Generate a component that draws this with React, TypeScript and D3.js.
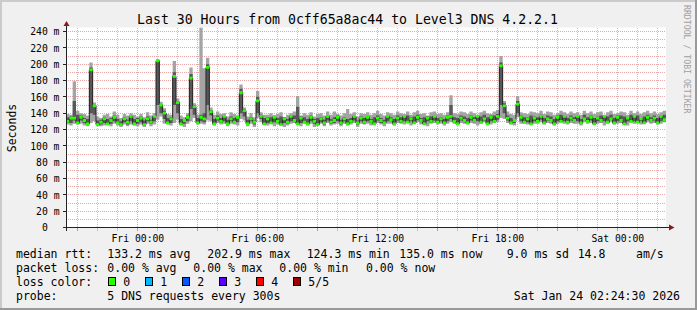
import React from 'react';
import * as d3 from 'd3';

// ---------- data ----------
const TITLE = 'Last 30 Hours from 0cff65a8ac44 to Level3 DNS 4.2.2.1';
const START_H = 20 + 24.5 / 60; // Thu 20:24:30 (hours since Thu 00:00)
const SPAN_H = 30;
const STEP_H = 10 / 60;
const Y_MAX = 244.9;

const median = [
  130, 134, 134, 128, 135, 131, 127, 193, 149, 126,
  129, 133, 127, 131, 135, 128, 126, 133, 129, 136,
  127, 131, 134, 126, 133, 129, 136, 204, 150, 140,
  128, 133, 185, 153, 127, 131, 135, 183, 148, 128,
  135, 133, 196, 142, 127, 134, 130, 136, 127, 133,
  129, 135, 165, 143, 127, 133, 129, 155, 136, 127,
  133, 128, 135, 130, 126, 133, 129, 136, 131, 127,
  134, 129, 127, 135, 130, 126, 133, 128, 136, 129,
  131, 135, 128, 133, 127, 130, 136, 128, 134, 129,
  135, 130, 127, 134, 131, 128, 136, 132, 127, 134,
  130, 136, 129, 133, 128, 135, 131, 127, 134, 130,
  136, 129, 133, 128, 135, 136, 130, 127, 134, 131,
  128, 135, 131, 136, 129, 133, 127, 135, 130, 136,
  198, 149, 134, 128, 131, 151, 135, 129, 133, 127,
  134, 130, 136, 128, 133, 131, 127, 135, 130, 136,
  129, 134, 131, 136, 128, 133, 130, 135, 127, 134,
  131, 136, 129, 133, 128, 135, 131, 127, 134, 130,
  136, 129, 133, 128, 135, 131, 134, 128, 136, 132,
];

const pingLo = [
  126, 125, 127, 126, 127, 125, 124, 128, 130, 124,
  124, 125, 126, 124, 127, 125, 123, 126, 124, 126,
  125, 124, 126, 123, 127, 124, 126, 132, 136, 127,
  126, 125, 128, 132, 125, 123, 127, 130, 134, 126,
  127, 126, 131, 130, 125, 128, 126, 127, 124, 127,
  126, 125, 133, 131, 124, 127, 123, 134, 129, 126,
  125, 127, 124, 126, 127, 123, 125, 127, 128, 126,
  124, 127, 125, 127, 123, 126, 127, 124, 128, 125,
  126, 127, 124, 127, 125, 126, 128, 123, 127, 126,
  127, 125, 127, 128, 126, 124, 127, 127, 125, 128,
  127, 126, 128, 125, 127, 129, 126, 127, 124, 127,
  128, 126, 127, 125, 127, 129, 127, 126, 128, 127,
  126, 128, 127, 125, 127, 129, 127, 126, 128, 129,
  134, 133, 128, 126, 125, 135, 127, 127, 126, 128,
  127, 127, 129, 126, 128, 127, 125, 127, 129, 127,
  126, 128, 127, 127, 125, 129, 127, 128, 126, 127,
  128, 125, 127, 129, 126, 127, 128, 127, 125, 129,
  127, 128, 126, 127, 129, 127, 128, 126, 127, 129,
];

const pingQ1 = [
  128, 128, 131, 127, 131, 128, 126, 140, 138, 125,
  126, 128, 126, 127, 130, 127, 125, 129, 126, 130,
  126, 127, 129, 125, 130, 127, 130, 150, 140, 133,
  127, 128, 150, 140, 126, 127, 130, 145, 138, 127,
  130, 129, 150, 137, 126, 131, 128, 130, 126, 130,
  128, 129, 140, 136, 126, 130, 126, 140, 133, 126,
  128, 127, 129, 128, 126, 128, 127, 130, 129, 126,
  128, 128, 126, 130, 127, 126, 129, 126, 131, 127,
  128, 130, 126, 130, 126, 128, 131, 126, 130, 127,
  130, 128, 126, 131, 128, 127, 130, 130, 126, 131,
  128, 130, 128, 130, 127, 132, 129, 127, 130, 128,
  131, 128, 130, 127, 130, 133, 129, 127, 131, 129,
  127, 131, 129, 130, 128, 131, 127, 130, 129, 132,
  150, 140, 131, 127, 128, 140, 130, 128, 129, 127,
  130, 129, 132, 127, 131, 129, 127, 130, 129, 130,
  128, 131, 129, 130, 127, 132, 129, 131, 127, 130,
  129, 130, 128, 132, 127, 130, 129, 127, 130, 129,
  130, 128, 130, 127, 132, 129, 131, 127, 130, 130,
];

const pingQ3 = [
  135, 136, 155, 138, 137, 134, 133, 196, 150, 131,
  132, 135, 133, 134, 137, 133, 130, 135, 132, 137,
  133, 134, 136, 131, 136, 132, 137, 205, 151, 143,
  134, 135, 190, 155, 133, 133, 137, 188, 150, 134,
  138, 140, 200, 144, 133, 137, 134, 137, 132, 136,
  134, 136, 170, 145, 132, 135, 131, 160, 138, 134,
  135, 135, 137, 134, 136, 135, 133, 137, 137, 148,
  136, 135, 133, 137, 133, 134, 135, 132, 137, 133,
  135, 137, 132, 135, 133, 134, 137, 131, 136, 134,
  136, 133, 135, 137, 134, 132, 137, 135, 133, 137,
  135, 137, 137, 135, 136, 138, 134, 135, 136, 136,
  137, 134, 135, 133, 137, 150, 135, 134, 137, 136,
  134, 137, 135, 137, 136, 138, 135, 137, 137, 139,
  202, 152, 137, 134, 133, 155, 137, 135, 135, 137,
  136, 135, 138, 134, 137, 136, 133, 137, 138, 137,
  134, 137, 135, 137, 133, 138, 135, 137, 134, 136,
  137, 137, 136, 138, 134, 137, 137, 136, 135, 138,
  137, 137, 134, 136, 138, 135, 137, 134, 137, 138,
];

const pingHi = [
  139, 138, 179, 143, 140, 139, 137, 202, 153, 136,
  134, 138, 139, 136, 142, 138, 134, 139, 137, 140,
  138, 136, 139, 135, 141, 137, 140, 206, 154, 146,
  139, 138, 204, 158, 137, 135, 140, 196, 152, 138,
  245, 195, 208, 147, 138, 142, 139, 140, 136, 141,
  139, 137, 175, 147, 136, 140, 135, 167, 141, 138,
  138, 140, 136, 139, 141, 135, 138, 140, 142, 161,
  137, 140, 138, 141, 136, 139, 140, 137, 142, 138,
  142, 139, 137, 140, 145, 139, 141, 136, 140, 139,
  141, 138, 140, 143, 139, 137, 141, 140, 138, 142,
  140, 139, 142, 138, 141, 143, 139, 140, 137, 141,
  142, 139, 140, 138, 141, 162, 140, 139, 142, 141,
  139, 142, 140, 138, 141, 143, 140, 139, 142, 144,
  210, 155, 142, 139, 138, 161, 141, 140, 139, 142,
  141, 140, 143, 139, 142, 141, 138, 140, 143, 141,
  139, 142, 140, 141, 138, 143, 140, 142, 139, 141,
  142, 138, 141, 143, 139, 140, 142, 141, 138, 143,
  140, 142, 139, 141, 143, 140, 142, 139, 141, 143,
];

const yTickValues = [0, 20, 40, 60, 80, 100, 120, 140, 160, 180, 200, 220, 240];
const yTickLabels = ['0  ', '20 m', '40 m', '60 m', '80 m', '100 m', '120 m', '140 m', '160 m', '180 m', '200 m', '220 m', '240 m'];
const yGridValues = d3.range(10, 241, 10);
const xLabelHours = [24, 30, 36, 42, 48];
const xLabels = ['Fri 00:00', 'Fri 06:00', 'Fri 12:00', 'Fri 18:00', 'Sat 00:00'];

const rttLabel = 'median rtt:';
const rttItems = ['133.2 ms avg', '202.9 ms max', '124.3 ms min', '135.0 ms now', '9.0 ms sd', '14.8', 'am/s'];
const lossLabel = 'packet loss:';
const lossItems = ['0.00 % avg', '0.00 % max', '0.00 % min', '0.00 % now'];
const colorLabel = 'loss color:';
const lossColorLabels = ['0', '1', '2', '3', '4', '5/5'];
const lossColors = ['#26ff00', '#00b8ff', '#0059ff', '#5e00ff', '#ff0000', '#a00000'];
const probeLabel = 'probe:';
const probeText = '5 DNS requests every 300s';
const dateText = 'Sat Jan 24 02:24:30 2026';
const sideText = 'RRDTOOL / TOBI OETIKER';

// ---------- layout ----------
const W = 697;
const H = 310;
const PL = 66;
const PR = 666;
const PT = 27.5;
const PB = 227.5;
const MONO = "'DejaVu Sans Mono', 'Liberation Mono', monospace";
const rttX = [107.3, 207.3, 306.7, 399.3, 506.7, 577.7, 636];
const lossX = [107.3, 193.3, 279.3, 366];
const LEG_Y = [258, 272, 286, 300];

export default function App() {
  const x = d3.scaleLinear().domain([START_H, START_H + SPAN_H]).range([PL, PR]);
  const y = d3.scaleLinear().domain([0, Y_MAX]).range([PB, PT]);
  const n = median.length;
  const idx = d3.range(n + 1);
  const tx = (i: number) => x(START_H + i * STEP_H);
  const at = (arr: number[], i: number) => arr[Math.min(i, n - 1)];

  const outer = d3.area<number>().curve(d3.curveStepAfter)
    .x(tx).y0((i) => y(at(pingLo, i))).y1((i) => y(at(pingHi, i)));
  const inner = d3.area<number>().curve(d3.curveStepAfter)
    .x(tx).y0((i) => y(at(pingQ1, i))).y1((i) => y(at(pingQ3, i)));
  const band = d3.area<number>().curve(d3.curveStepAfter)
    .x(tx).y0((i) => y(at(median, i)) + 1.4).y1((i) => y(at(median, i)) - 1.4);
  const medLine = d3.line<number>().curve(d3.curveStepAfter)
    .x(tx).y((i) => y(at(median, i)));

  const hours = d3.range(Math.ceil(START_H), START_H + SPAN_H, 1);
  const px = (v: number) => Math.floor(v) + 0.5;

  return (
    <svg width={W} height={H} style={{ position: 'absolute', left: 0, top: 0 }} fontFamily={MONO}>
      <defs>
        <clipPath id="plotclip">
          <rect x={PL} y={PT} width={PR - PL} height={PB - PT} />
        </clipPath>
      </defs>
      {/* frame */}
      <rect x={0} y={0} width={W} height={H} fill="#f0f0f0" />
      <rect x={0} y={0} width={W} height={2} fill="#cbcbcb" />
      <rect x={0} y={0} width={2} height={H} fill="#cbcbcb" />
      <rect x={0} y={H - 2} width={W} height={2} fill="#999999" />
      <rect x={W - 2} y={0} width={2} height={H} fill="#999999" />
      {/* canvas */}
      <rect x={PL} y={PT} width={PR - PL} height={PB - PT} fill="#ffffff" />

      {/* grid */}
      <g shapeRendering="crispEdges">
        {hours.filter((h) => h % 3 !== 0).map((h) => (
          <g key={'v' + h}>
            <line x1={px(x(h))} x2={px(x(h))} y1={PT} y2={PB} stroke="#c4c4c4" strokeDasharray="1,1" />
            <line x1={px(x(h))} x2={px(x(h))} y1={PB} y2={PB + 3} stroke="#c4c4c4" />
          </g>
        ))}
        {yGridValues.map((v) => (
          <line key={'h' + v} x1={PL} x2={PR} y1={px(y(v))} y2={px(y(v))} stroke="#e8a6a6" strokeDasharray="1,1" />
        ))}
        {hours.filter((h) => h % 3 === 0).map((h) => (
          <g key={'V' + h}>
            <line x1={px(x(h))} x2={px(x(h))} y1={PT} y2={PB} stroke="#e8a6a6" strokeDasharray="1,1" />
            <line x1={px(x(h))} x2={px(x(h))} y1={PB} y2={PB + 3} stroke="#e08a8a" />
          </g>
        ))}
      </g>

      {/* data */}
      <g clipPath="url(#plotclip)">
        <path d={outer(idx) || ''} fill="#a4a4a4" />
        <path d={inner(idx) || ''} fill="#585858" />
        <path d={medLine(idx) || ''} fill="none" stroke="#202020" strokeWidth={1} />
        <path d={band(idx) || ''} fill={lossColors[0]} />
      </g>

      {/* axes */}
      <g shapeRendering="crispEdges">
        <line x1={PL + 0.5} x2={PL + 0.5} y1={PB + 3} y2={24} stroke="#222" />
        <line x1={63} x2={670} y1={PB} y2={PB} stroke="#222" />
        {yTickValues.map((v) => (
          <line key={'t' + v} x1={63} x2={PL} y1={px(y(v))} y2={px(y(v))} stroke="#222" />
        ))}
      </g>
      <path d={`M${PL + 0.5 - 3},26 L${PL + 0.5 + 3},26 L${PL + 0.5},21 Z`} fill="#8b1a1a" />
      <path d={`M669,${PB - 3} L669,${PB + 3} L674.5,${PB} Z`} fill="#8b1a1a" />

      {/* axis labels */}
      {yTickValues.map((v, i) => (
        <text key={'yl' + v} x={59.5} y={y(v) + 3.8} fontSize={9.75} textAnchor="end" fill="#000" style={{ whiteSpace: 'pre' }}>
          {yTickLabels[i]}
        </text>
      ))}
      {xLabelHours.map((h, i) => (
        <text key={'xl' + h} x={x(h)} y={241.5} fontSize={9.75} textAnchor="middle" fill="#000">
          {xLabels[i]}
        </text>
      ))}

      {/* title, side texts */}
      <text x={347.5} y={24} fontSize={13.2} textAnchor="middle" fill="#000">{TITLE}</text>
      <text transform="translate(15.5,128) rotate(-90)" fontSize={11.5} textAnchor="middle" fill="#000">Seconds</text>
      <text transform="translate(683.5,5) rotate(90)" fontSize={8.2} fill="#a0a0a0">{sideText}</text>

      {/* legend */}
      <g fontSize={11.5} fill="#000" style={{ whiteSpace: 'pre' }}>
        <text x={16} y={LEG_Y[0]}>{rttLabel}</text>
        {rttItems.map((s, i) => (
          <text key={'r' + i} x={rttX[i]} y={LEG_Y[0]}>{s}</text>
        ))}
        <text x={16} y={LEG_Y[1]}>{lossLabel}</text>
        {lossItems.map((s, i) => (
          <text key={'l' + i} x={lossX[i]} y={LEG_Y[1]}>{s}</text>
        ))}
        <text x={16} y={LEG_Y[2]}>{colorLabel}</text>
        {lossColorLabels.map((s, i) => (
          <g key={'c' + i}>
            <rect x={108.5 + i * 37} y={277.5} width={7} height={8} fill={lossColors[i]} stroke="#000" strokeWidth={1} shapeRendering="crispEdges" />
            <text x={123.3 + i * 37} y={LEG_Y[2]}>{s}</text>
          </g>
        ))}
        <text x={16} y={LEG_Y[3]}>{probeLabel}</text>
        <text x={107.3} y={LEG_Y[3]}>{probeText}</text>
        <text x={680} y={LEG_Y[3]} textAnchor="end">{dateText}</text>
      </g>
    </svg>
  );
}
